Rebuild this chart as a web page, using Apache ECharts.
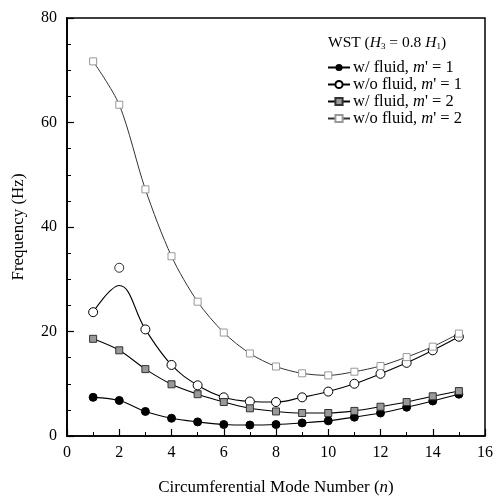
<!DOCTYPE html>
<html>
<head>
<meta charset="utf-8">
<script src="https://cdn.jsdelivr.net/npm/echarts@6/dist/echarts.min.js"></script>
<style>html,body{margin:0;padding:0;background:#fff;}#c{width:496px;height:501px;}</style>
</head>
<body>
<div id="c"></div>
<script>
const modes = [1,2,3,4,5,6,7,8,9,10,11,12,13,14,15];
const wFluidM1 = [7.4,6.8,4.7,3.4,2.7,2.2,2.1,2.2,2.5,2.9,3.6,4.4,5.5,6.7,8.0];
const woFluidM1 = [23.7,32.2,20.4,13.6,9.7,7.4,6.6,6.5,7.4,8.5,10.0,11.9,14.0,16.4,19.0];
const woFluidM1Curve = [23.7,28.8,20.4,13.6,9.7,7.4,6.6,6.5,7.4,8.5,10.0,11.9,14.0,16.4,19.0];
const wFluidM2 = [18.6,16.4,12.8,9.9,8.0,6.5,5.3,4.7,4.4,4.4,4.8,5.6,6.5,7.6,8.6];
const woFluidM2 = [71.7,63.4,47.2,34.4,25.7,19.8,15.8,13.3,12.0,11.6,12.3,13.4,15.1,17.1,19.6];
const xTicks = [0,2,4,6,8,10,12,14,16];
const yTicks = [0,20,40,60,80];
const seriesNames = ["w/ fluid, m' = 1","w/o fluid, m' = 1","w/ fluid, m' = 2","w/o fluid, m' = 2"];

const FONT = '"Liberation Serif", "DejaVu Serif", serif';
const pairs = (ys) => modes.map((m,i) => [m, ys[i]]);

const chart = echarts.init(document.getElementById('c'), null, {renderer:'canvas'});
const curveData = modes.map((m,i) => i === 1 ? {value:[m, woFluidM1Curve[i]], symbol:'none'} : [m, woFluidM1Curve[i]]);

chart.setOption({
  animation:false,
  backgroundColor:'#fff',
  grid:{left:67,right:11,top:18,bottom:63,show:true,borderColor:'#000',borderWidth:1.5},
  xAxis:{
    type:'value',min:0,max:16,interval:2,
    axisLine:{onZero:false,lineStyle:{color:'#000',width:1.5}},
    axisTick:{inside:true,length:7,lineStyle:{color:'#000',width:1.2}},
    minorTick:{show:true,splitNumber:2,length:4,lineStyle:{color:'#000',width:1}},
    splitLine:{show:false},
    axisLabel:{margin:9,color:'#000',fontFamily:FONT,fontSize:16},
    name:'Circumferential Mode Number ({i|n})',
    nameLocation:'middle',nameGap:43,
    nameTextStyle:{color:'#000',fontFamily:FONT,fontSize:17,
      rich:{i:{fontStyle:'italic',fontFamily:FONT,fontSize:17,color:'#000'}}}
  },
  yAxis:{
    type:'value',min:0,max:80,interval:20,
    axisLine:{onZero:false,lineStyle:{color:'#000',width:1.8}},
    axisTick:{inside:true,length:7,lineStyle:{color:'#000',width:1.2}},
    minorTick:{show:true,splitNumber:4,length:4,lineStyle:{color:'#000',width:1}},
    splitLine:{show:false},
    axisLabel:{margin:10,color:'#000',fontFamily:FONT,fontSize:16},
    name:'Frequency (Hz)',nameLocation:'middle',nameGap:40,
    nameTextStyle:{color:'#000',fontFamily:FONT,fontSize:17}
  },
  legend:{
    left:327,top:59,padding:0,orient:'vertical',itemWidth:22,itemHeight:9,itemGap:0,
    data:seriesNames,
    formatter:function(name){
      const parts = name.split("m'");
      return '{a|'+parts[0]+'}{i|m}{a|\''+parts[1]+'}';
    },
    textStyle:{color:'#000',fontFamily:FONT,fontSize:16.5,padding:[0,0,0,-2],lineHeight:16,
      rich:{a:{fontFamily:FONT,fontSize:16.5,color:'#000',lineHeight:16},i:{fontFamily:FONT,fontSize:16.5,fontStyle:'italic',color:'#000',lineHeight:16}}}
  },
  graphic:[{
    type:'text',left:328,top:35,
    style:{
      text:'{a|WST (}{i|H}{s|3}{a| = 0.8 }{i|H}{s|1}{a|)}',
      rich:{
        a:{fontFamily:FONT,fontSize:15.5,color:'#000',verticalAlign:'bottom',lineHeight:18},
        i:{fontFamily:FONT,fontSize:15.5,fontStyle:'italic',color:'#000',verticalAlign:'bottom',lineHeight:18},
        s:{fontFamily:FONT,fontSize:9,color:'#000',verticalAlign:'bottom',lineHeight:13}
      }
    }
  }],
  series:[
    {name:seriesNames[0],type:'line',smooth:0.3,data:pairs(wFluidM1),
      symbol:'circle',symbolSize:8,
      lineStyle:{color:'#000',width:1.1},itemStyle:{color:'#000',borderColor:'#000'}},
    {name:seriesNames[1],type:'line',smooth:0.4,data:curveData,
      symbol:'circle',symbolSize:9,
      lineStyle:{color:'#000',width:1.1},itemStyle:{color:'#fff',borderColor:'#000',borderWidth:1}},
    {name:'w/o marker n2',type:'scatter',data:[[modes[1], woFluidM1[1]]],
      symbol:'circle',symbolSize:9,
      itemStyle:{color:'#fff',borderColor:'#000',borderWidth:1}},
    {name:seriesNames[2],type:'line',smooth:0.3,data:pairs(wFluidM2),
      symbol:'rect',symbolSize:7,
      lineStyle:{color:'#000',width:1.1},itemStyle:{color:'#999',borderColor:'#333',borderWidth:1}},
    {name:seriesNames[3],type:'line',smooth:0.3,data:pairs(woFluidM2),
      symbol:'rect',symbolSize:7,
      lineStyle:{color:'#333',width:1},itemStyle:{color:'#fff',borderColor:'#999',borderWidth:1}}
  ]
});
</script>
</body>
</html>
